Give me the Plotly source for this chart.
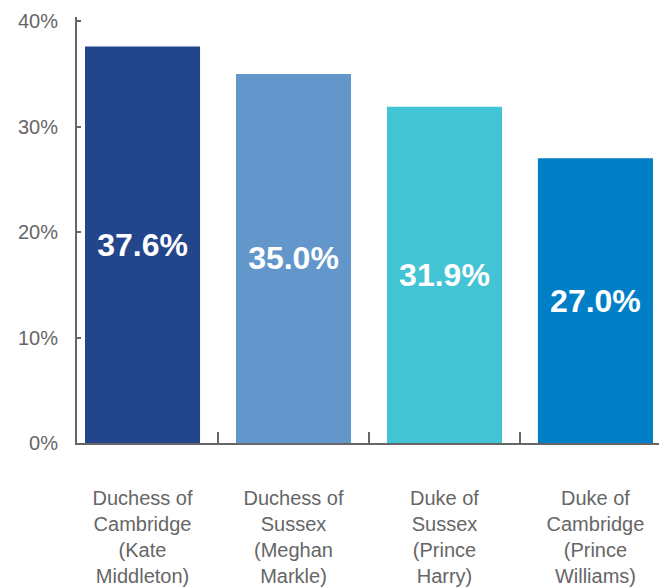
import plotly.graph_objects as go

categories = [
    "Duchess of<br>Cambridge<br>(Kate<br>Middleton)",
    "Duchess of<br>Sussex<br>(Meghan<br>Markle)",
    "Duke of<br>Sussex<br>(Prince<br>Harry)",
    "Duke of<br>Cambridge<br>(Prince<br>Williams)",
]
values = [37.6, 35.0, 31.9, 27.0]
bar_colors = ["#23458C", "#6397CB", "#43C4D4", "#007FC6"]
y_ticks = [0, 10, 20, 30, 40]
y_tick_text = ["0%", "10%", "20%", "30%", "40%"]

fig = go.Figure(
    go.Bar(
        x=categories,
        y=values,
        marker=dict(color=bar_colors, line=dict(width=0)),
        width=0.762,
        text=[f"{v:.1f}%" for v in values],
        textposition="inside",
        insidetextanchor="middle",
        textangle=0,
        textfont=dict(family="Liberation Sans, Arial, sans-serif", size=32, color="white", weight="bold"),
        hoverinfo="skip",
    )
)

# page body has an 8px default margin, so the figure is sized to fit the window
fig.update_layout(
    width=659,
    height=580,
    margin=dict(l=69, r=0, t=9, b=145),
    paper_bgcolor="white",
    plot_bgcolor="white",
    showlegend=False,
    font=dict(family="Liberation Sans, Arial, sans-serif", color="#666666"),
    uniformtext=dict(minsize=10, mode="show"),
)

fig.update_xaxes(
    type="category",
    range=[-0.434, 3.474],
    automargin=False,
    showline=True,
    linecolor="#666666",
    linewidth=2,
    ticks="inside",
    tickson="boundaries",
    ticklen=11,
    tickwidth=2,
    tickcolor="#666666",
    showgrid=False,
    zeroline=False,
    tickfont=dict(size=20, color="#666666"),
    ticklabelstandoff=36,
)

fig.update_yaxes(
    range=[0, 40.4],
    automargin=False,
    tickvals=y_ticks,
    ticktext=y_tick_text,
    showline=True,
    linecolor="#666666",
    linewidth=2,
    ticks="inside",
    ticklen=4,
    tickwidth=2,
    tickcolor="#666666",
    showgrid=False,
    zeroline=False,
    tickfont=dict(size=20, color="#666666"),
    ticklabelstandoff=13,
)

fig.write_html("out.html")
